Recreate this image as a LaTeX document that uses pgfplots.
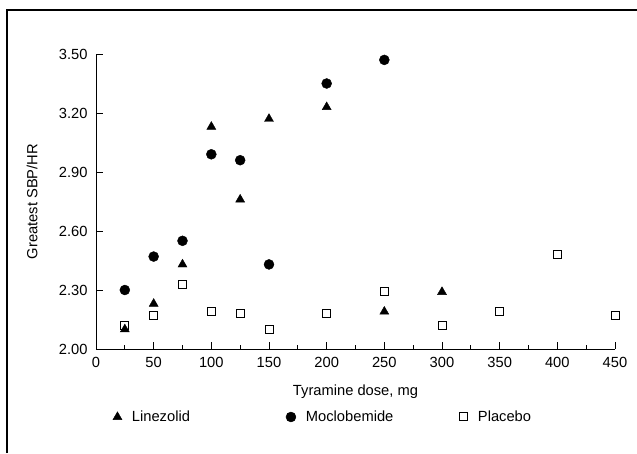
\documentclass[border=0pt]{standalone}
\usepackage{fontspec}
\setmainfont{Liberation Sans}
\usepackage{pgfplots}
\pgfplotsset{compat=1.18}
\newcommand{\lbl}{\fontsize{14.7}{17}\selectfont}
\begin{document}
\begin{tikzpicture}[x=1pt,y=1pt]
\path[use as bounding box] (0,0) rectangle (637,453);
\draw[line width=1.3pt] (7,0) -- (7,443) -- (637,443);
\begin{axis}[
  at={(96pt,104pt)}, anchor=south west,
  scale only axis, width=519pt, height=295pt,
  xmin=0, xmax=450, ymin=2, ymax=3.5,
  axis lines=left,
  axis line style={-, line width=0.9pt},
  xtick={0,50,...,450},
  minor xtick={25,75,...,425},
  ytick={2.00,2.30,2.60,2.90,3.20,3.50},
  tick align=inside,
  major tick length=7pt, minor tick length=4pt,
  tick style={line width=0.9pt, black},
  ticklabel style={font=\lbl},
  /pgf/number format/assume math mode=true,
  yticklabel style={xshift=-5pt, /pgf/number format/.cd, fixed, fixed zerofill, precision=2},
  xticklabel style={yshift=-5pt, /pgf/number format/.cd, fixed, precision=0},
  xlabel={Tyramine dose, mg},
  ylabel={Greatest SBP/HR},
  every axis x label/.style={at={(axis description cs:0.5,-0.1458)}, anchor=center, font=\lbl},
  every axis y label/.style={at={(axis description cs:-0.1233,0.5)}, anchor=center, rotate=90, font=\lbl},
  legend columns=3,
  legend image code/.code={\draw[#1] plot coordinates {(0pt,0pt)};},
  legend style={draw=none, fill=none, font=\lbl,
    at={(axis description cs:0.0265,-0.2305)}, anchor=west,
    /tikz/every odd column/.append style={column sep=8pt},
    /tikz/every even column/.append style={column sep=0pt}},
  clip=false,
]
\addplot[only marks, mark=triangle*, mark size=5.2pt, black] coordinates {
 (25,2.10) (50,2.23) (75,2.43) (100,3.13) (125,2.76) (150,3.17) (200,3.23) (250,2.19) (300,2.29)};
\addlegendentry{\makebox[152pt][l]{Linezolid}}
\addplot[only marks, mark=*, mark size=5pt, black] coordinates {
 (25,2.30) (50,2.47) (75,2.55) (100,2.99) (125,2.96) (150,2.43) (200,3.35) (250,3.47)};
\addlegendentry{\makebox[152pt][l]{Moclobemide}}
\addplot[only marks, mark=square, mark size=4pt, black, mark options={line width=1pt, fill=white}] coordinates {
 (25,2.12) (50,2.17) (75,2.33) (100,2.19) (125,2.18) (150,2.10) (200,2.18) (250,2.29) (300,2.12) (350,2.19) (400,2.48) (450,2.17)};
\addlegendentry{Placebo}
\end{axis}
\end{tikzpicture}
\end{document}
